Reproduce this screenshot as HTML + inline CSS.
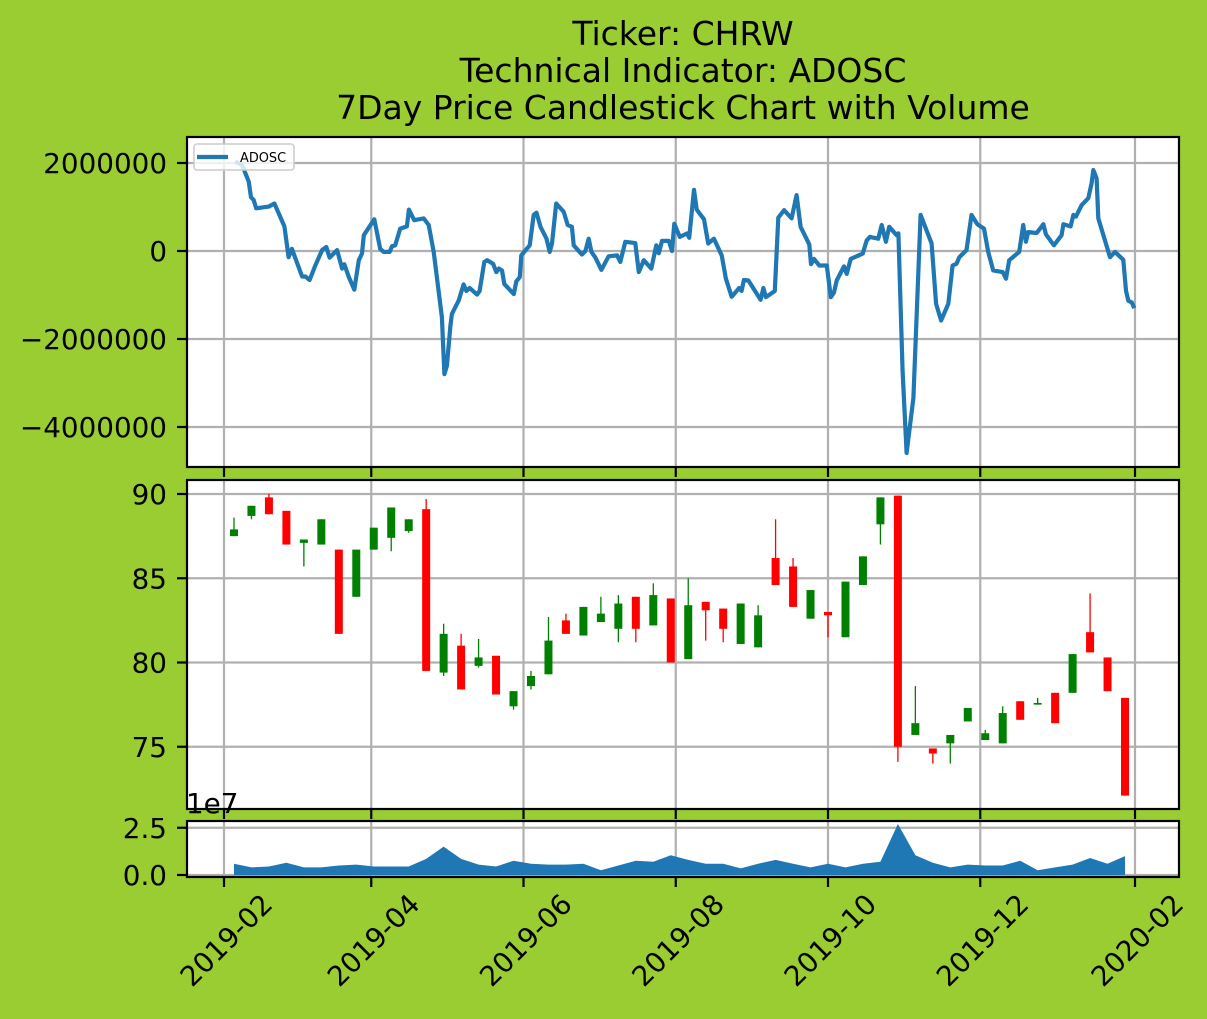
<!DOCTYPE html>
<html><head><meta charset="utf-8"><style>
html,body{margin:0;padding:0;background:#9acd32;}
svg{display:block;font-family:"DejaVu Sans","Liberation Sans",sans-serif;}
</style></head><body>
<svg id="chart" width="1207" height="1019" xmlns="http://www.w3.org/2000/svg">
<rect x="0" y="0" width="1207" height="1019" fill="#9acd32"/>
<text x="683" y="45" font-size="33" text-anchor="middle">Ticker: CHRW</text>
<text x="683" y="82" font-size="33" text-anchor="middle">Technical Indicator: ADOSC</text>
<text x="683" y="119" font-size="33" text-anchor="middle">7Day Price Candlestick Chart with Volume</text>
<g id="g1"></g>
<g id="g2"></g>
<g id="g3"></g>
<g id="gx"></g>
</svg>
<script>
const adDays = [4.5,7.2,9.9,10.8,11.9,12.9,17.9,20.2,24.2,25.9,27.2,31.3,32.6,34.3,36.6,39.3,41.0,42.3,45.3,47.3,48.2,50.0,52.2,54.0,55.3,56.0,60.2,62.6,64.0,66.4,67.3,68.6,70.6,73.3,74.1,76.2,80.0,82.0,84.0,87.3,88.3,89.3,90.7,91.3,94.0,96.0,97.1,98.4,101.4,102.4,104.3,105.4,107.8,109.1,110.1,111.4,112.3,116.1,117.1,118.5,119.1,122.5,124.1,125.2,126.8,129.2,130.5,131.4,133.1,136.1,137.7,139.4,140.1,143.4,144.8,146.1,147.2,148.8,151.2,154.1,157.5,158.8,160.8,164.8,166.2,168.2,171.2,173.2,174.2,175.5,178.2,179.5,180.4,182.6,185.6,186.4,188.3,189.4,192.3,194.0,196.3,199.4,201.1,203.4,206.4,207.4,208.3,210.1,215.0,216.1,217.1,220.7,222.1,224.4,227.4,229.4,231.0,234.5,235.2,236.4,238.5,241.5,243.1,244.4,245.5,248.4,249.5,251.1,255.9,257.5,258.8,262.1,263.5,265.2,266.5,269.5,270.2,271.9,273.5,276.2,279.1,283.5,285.3,287.3,290.2,291.9,293.5,294.6,297.5,299.5,301.8,304.5,306.2,308.2,312.0,313.3,314.6,318.6,320.2,321.3,322.2,325.6,328.3,329.3,332.5,335.6,336.3,339.2,340.3,341.3,343.6,346.3,347.6,348.3,349.6,350.3,355.0,357.0,360.3,361.4,362.3,363.7,364.7];
const adValues = [2.03,1.96,1.58,1.22,1.16,0.97,1.01,1.08,0.56,-0.14,0.05,-0.58,-0.58,-0.66,-0.33,0.02,0.09,-0.15,0.02,-0.40,-0.30,-0.59,-0.88,-0.21,-0.06,0.36,0.72,0.05,-0.02,-0.02,0.11,0.13,0.51,0.56,0.94,0.70,0.74,0.59,-0.02,-1.51,-2.80,-2.61,-1.70,-1.43,-1.13,-0.76,-0.91,-0.84,-0.99,-0.91,-0.25,-0.21,-0.29,-0.48,-0.40,-0.44,-0.75,-0.98,-0.69,-0.59,-0.10,0.13,0.82,0.87,0.55,0.28,-0.02,0.17,1.08,0.89,0.59,0.55,0.13,-0.08,0.0,0.28,-0.02,-0.15,-0.43,-0.12,-0.10,-0.25,0.21,0.18,-0.48,-0.21,-0.40,0.13,-0.05,0.23,0.23,0.0,0.62,0.32,0.40,0.30,1.39,0.94,0.72,0.17,0.28,-0.10,-0.63,-1.04,-0.84,-0.91,-0.66,-0.67,-1.11,-0.84,-1.05,-0.91,0.76,0.93,0.74,1.27,0.55,0.15,-0.30,-0.18,-0.33,-0.33,-1.05,-0.94,-0.67,-0.35,-0.52,-0.18,-0.06,0.24,0.32,0.28,0.59,0.21,0.55,0.36,0.40,-2.73,-4.59,-3.34,0.82,0.17,-1.20,-1.58,-1.20,-0.33,-0.29,-0.14,0.02,0.82,0.61,0.51,-0.02,-0.44,-0.48,-0.63,-0.21,-0.02,0.59,0.21,0.43,0.41,0.61,0.38,0.13,0.36,0.61,0.56,0.82,0.78,1.04,1.20,1.54,1.84,1.65,0.74,-0.14,-0.02,-0.20,-0.90,-1.13,-1.17,-1.30];
const candleDays = [4,11,18,25,32,39,46,53,60,67,74,81,88,95,102,109,116,123,130,137,144,151,158,165,172,179,186,193,200,207,214,221,228,235,242,249,256,263,270,277,284,291,298,305,312,319,326,333,340,347,354,361];
const opens  = [87.5,88.7,89.8,89.0,87.1,87.0,86.7,83.9,86.7,87.4,87.8,89.1,79.4,81.0,79.8,80.4,77.4,78.6,79.3,82.5,81.6,82.4,82.0,83.9,82.2,83.8,80.2,83.6,83.2,81.1,80.9,86.2,85.7,82.6,83.0,81.5,84.6,88.2,89.9,75.7,74.9,75.2,76.5,75.4,75.2,77.7,77.5,78.2,78.2,81.8,80.3,77.9];
const closes = [87.9,89.3,88.8,87.0,87.3,88.5,81.7,86.7,88.0,89.2,88.5,79.5,81.7,78.4,80.3,78.1,78.3,79.2,81.3,81.7,83.3,82.9,83.5,82.0,84.0,80.0,83.4,83.1,82.0,83.5,82.8,84.6,83.3,84.3,82.8,84.8,86.3,89.8,75.0,76.4,74.6,75.7,77.3,75.8,77.0,76.6,77.6,76.4,80.5,80.6,78.3,72.1];
const highs  = [88.6,89.3,90.0,89.0,87.3,88.5,86.7,86.7,88.0,89.2,88.5,89.7,82.3,81.7,81.4,80.4,78.3,79.5,82.7,82.9,83.3,83.9,84.0,83.9,84.7,83.8,85.0,83.6,83.2,83.5,83.4,88.5,86.2,84.3,83.0,84.8,86.3,89.8,89.9,78.6,74.9,75.7,77.3,76.0,77.4,77.7,77.9,78.2,80.5,84.1,80.3,77.9];
const lows   = [87.5,88.5,88.8,87.0,85.7,87.0,81.7,83.9,86.7,86.6,87.7,79.5,79.2,78.4,79.7,78.1,77.2,78.4,79.3,81.7,81.6,82.4,81.2,81.2,82.2,80.0,80.2,81.3,81.2,81.1,80.9,84.6,83.3,82.6,81.5,81.5,84.6,87.0,74.1,75.7,74.0,74.0,76.5,75.4,75.2,76.6,77.5,76.4,78.2,80.6,78.3,72.1];
const volumes = [0.6,0.4,0.45,0.65,0.4,0.4,0.5,0.55,0.45,0.45,0.45,0.85,1.5,0.85,0.55,0.45,0.75,0.6,0.55,0.55,0.6,0.25,0.5,0.75,0.7,1.05,0.8,0.6,0.6,0.35,0.6,0.8,0.6,0.4,0.6,0.4,0.6,0.7,2.7,1.05,0.65,0.4,0.55,0.5,0.5,0.75,0.25,0.4,0.55,0.9,0.6,1.0];
const xTickLabels = ["2019-02","2019-04","2019-06","2019-08","2019-10","2019-12","2020-02"];
const xTickDays = [0,59,120,181,242,303,365];
const adTicks = [2000000,0,-2000000,-4000000];
const priceTicks = [90,85,80,75];
const volTicks = [0.0,2.5];

const NS="http://www.w3.org/2000/svg";
const L=187,R=1179;
const P1={t:137,b:467}, P2={t:480,b:809}, P3={t:821,b:877};
const xS = d => 224 + d*2.4959;
const y1 = v => 251 - v*44;
function yPrice(p){return 494 + (90-p)*16.85;}
function yVol(v){return 875 - v*18.9;}
function mk(tag,attrs,parent){const e=document.createElementNS(NS,tag);for(const k in attrs)e.setAttribute(k,attrs[k]);parent.appendChild(e);return e;}
const g1=document.getElementById('g1'),g2=document.getElementById('g2'),g3=document.getElementById('g3'),gx=document.getElementById('gx');

function panel(g,P,name){
  const r=mk('rect',{x:L,y:P.t,width:R-L,height:P.b-P.t,fill:'#fff'},g);
  
  
  xTickDays.forEach(d=>{const l=mk('line',{x1:xS(d),x2:xS(d),y1:P.t,y2:P.b,stroke:'#b0b0b0','stroke-width':2.2},g);
    
    
    const t=mk('line',{x1:xS(d),x2:xS(d),y1:P.b,y2:P.b+10,stroke:'#000','stroke-width':2.2},g);
    
    });
}
function yTick(g,y,label,name){
  const l=mk('line',{x1:L,x2:R,y1:y,y2:y,stroke:'#b0b0b0','stroke-width':2.2},g);
  
  
  const t=mk('line',{x1:L-10,x2:L,y1:y,y2:y,stroke:'#000','stroke-width':2.2},g);
  
  
  const tx=mk('text',{x:167,y:y+10,'font-size':27.8,'text-anchor':'end'},g);
  tx.textContent=label;
  
  
}
function frame(g,P,name){
  const r=mk('rect',{x:L,y:P.t,width:R-L,height:P.b-P.t,fill:'none',stroke:'#000','stroke-width':2.2},g);
  
  
}
const fmt=v=>v<0?'\u2212'+Math.abs(v):String(v);

panel(g1,P1,'adosc');
adTicks.forEach(v=>yTick(g1,y1(v/1e6),fmt(v),'adosc'));
const cp=mk('clipPath',{id:'c1'},g1);mk('rect',{x:L,y:P1.t,width:R-L,height:P1.b-P1.t},cp);
const pl=mk('polyline',{points:adDays.map((d,i)=>xS(d).toFixed(1)+','+y1(adValues[i]).toFixed(1)).join(' '),fill:'none',stroke:'#1f77b4','stroke-width':4.2,'stroke-linejoin':'round','clip-path':'url(#c1)'},g1);


const lg=mk('g',{},g1);


mk('rect',{x:194,y:144,width:100,height:26,rx:3,fill:'#fff','fill-opacity':0.8,stroke:'#ccc','stroke-width':1.5},lg);
mk('line',{x1:197,x2:228,y1:157,y2:157,stroke:'#1f77b4','stroke-width':4.2},lg);
const lt=mk('text',{x:240,y:162,'font-size':12.9},lg);lt.textContent='ADOSC';


frame(g1,P1,'adosc');

panel(g2,P2,'price');
priceTicks.forEach(v=>yTick(g2,yPrice(v),String(v),'price'));
const cp2=mk('clipPath',{id:'c2'},g2);mk('rect',{x:L,y:P2.t,width:R-L,height:P2.b-P2.t},cp2);
const cg=mk('g',{'clip-path':'url(#c2)'},g2);
candleDays.forEach((d,i)=>{
  const up=closes[i]>=opens[i];const col=up?'#008000':'#ff0000';const x=xS(d);
  const w=mk('line',{x1:x,x2:x,y1:yPrice(highs[i]),y2:yPrice(lows[i]),stroke:col,'stroke-width':1.3},cg);
  
  
  const top=yPrice(Math.max(opens[i],closes[i])),bot=yPrice(Math.min(opens[i],closes[i]));
  const b=mk('rect',{x:x-4,y:top,width:8,height:Math.max(bot-top,1.5),fill:col},cg);
  
  
});
frame(g2,P2,'price');

panel(g3,P3,'volume');
volTicks.forEach(v=>yTick(g3,yVol(v),v.toFixed(1),'volume'));
let pts=xS(candleDays[0])+','+yVol(0)+' ';
candleDays.forEach((d,i)=>{pts+=xS(d).toFixed(1)+','+yVol(volumes[i]).toFixed(1)+' ';});
pts+=xS(candleDays[candleDays.length-1])+','+yVol(0);
const va=mk('polygon',{points:pts,fill:'#1f77b4'},g3);


frame(g3,P3,'volume');
const oe=mk('text',{x:186,y:813,'font-size':27.8},g3);oe.textContent='1e7';



xTickDays.forEach((d,i)=>{
  const cx=xS(d)+2, cy=940;
  const t=mk('text',{x:cx,y:cy+10,'font-size':27.8,'text-anchor':'middle',transform:'rotate(-45 '+cx+' '+cy+')'},gx);
  t.textContent=xTickLabels[i];
  
  
});
</script>
</body></html>
